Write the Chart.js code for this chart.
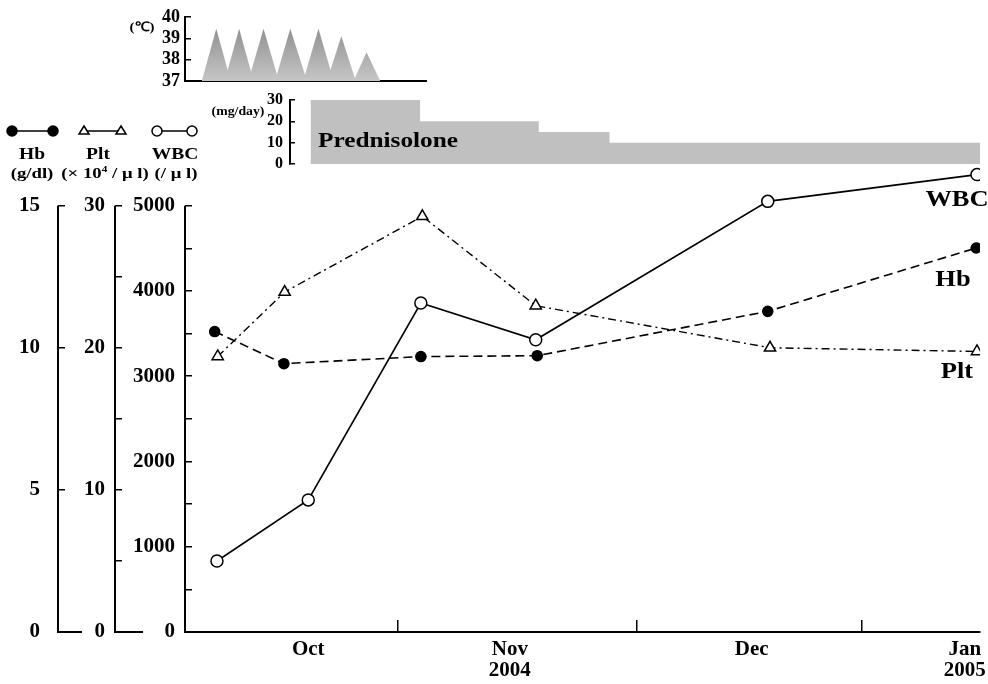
<!DOCTYPE html>
<html>
<head>
<meta charset="utf-8">
<script src="https://cdn.jsdelivr.net/npm/chart.js@4.4.0/dist/chart.umd.min.js"></script>
<style>
body { margin: 0; background: #fff; }
#wrap { position: relative; width: 988px; height: 684px; overflow: hidden; font-family: "Liberation Serif", serif; font-weight: bold; color: #000; }
canvas { position: absolute; }
.t { position: absolute; white-space: nowrap; transform: translate(-50%, -50%); line-height: 1; }
.w { transform: translate(-50%, -50%) scaleX(1.15); }
.ww { transform: translate(-50%, -50%) scaleX(1.25); }
</style>
</head>
<body>
<div id="wrap">
  <canvas id="main" width="988" height="684" style="left:0;top:0"></canvas>
  <canvas id="pred" width="788" height="90" style="left:200px;top:90px"></canvas>
  <canvas id="temp" width="320" height="100" style="left:120px;top:0"></canvas>

  <svg style="position:absolute;left:0;top:118px" width="210" height="26">
    <g stroke="#000" stroke-width="1.5">
      <line x1="12" y1="13" x2="53" y2="13"/>
      <circle cx="12" cy="13" r="5" fill="#000"/>
      <circle cx="53" cy="13" r="5" fill="#000"/>
      <line x1="84" y1="13" x2="121" y2="13"/>
      <polygon points="84,8 89,16 79,16" fill="#fff"/>
      <polygon points="121,8 126,16 116,16" fill="#fff"/>
      <line x1="157" y1="13" x2="192" y2="13"/>
      <circle cx="157" cy="13" r="5" fill="#fff"/>
      <circle cx="192" cy="13" r="5" fill="#fff"/>
    </g>
  </svg>
  <div class="t w" style="left:32px;top:153px;font-size:17px">Hb</div>
  <div class="t w" style="left:98px;top:153px;font-size:17px">Plt</div>
  <div class="t w" style="left:175px;top:153px;font-size:17px">WBC</div>
  <div class="t ww" style="left:32px;top:173px;font-size:15px">(g/dl)</div>
  <div class="t ww" style="left:105px;top:173px;font-size:15px">(× 10<sup style="font-size:9px">4</sup> / μ l)</div>
  <div class="t ww" style="left:176px;top:173px;font-size:15px">(/ μ l)</div>

  <div class="t w" style="left:142px;top:26px;font-size:13px">(℃)</div>
  <div class="t w" style="left:238px;top:111px;font-size:12px">(mg/day)</div>
  <div class="t w" style="left:388px;top:140px;font-size:22px">Prednisolone</div>

  <div class="t w" style="left:957px;top:198px;font-size:23px">WBC</div>
  <div class="t w" style="left:953px;top:278px;font-size:23px">Hb</div>
  <div class="t w" style="left:957px;top:370px;font-size:23px">Plt</div>
</div>

<script>
// time axis in days counted from 1 Oct 2004
const wbcDays = [7.2, 19.2, 34.0, 49.1, 79.6, 107.1];
const wbcValues = [833, 1549, 3858, 3427, 5050, 5364];
const hbDays = [6.9, 16.0, 34.0, 49.3, 79.6, 107.0];
const hbValues = [10.57, 9.44, 9.69, 9.72, 11.28, 13.51];
const pltDays = [7.3, 16.1, 34.2, 49.1, 79.9, 107.1];
const pltValues = [19.39, 23.92, 29.25, 22.96, 20.0, 19.74];

const predDays = [19.5, 33.9, 49.5, 58.8, 107.5];
const predDose = [30, 20, 15, 10, 10];

const feverStart = [5.2, 8.2, 11.3, 14.8, 18.5, 21.6, 25.1];
const feverPeakDay = [7.1, 10.1, 13.3, 16.8, 20.5, 23.5, 26.8];
const feverEnd = [9.0, 12.0, 15.3, 19.0, 22.5, 25.4, 28.6];
const feverPeak = [39.45, 39.45, 39.45, 39.45, 39.45, 39.1, 38.35];

const monthTicks = [31, 62.4, 92];
const monthLabelDays = [19.2, 45.7, 77.5, 105.5];
const monthLabels = [['Oct'], ['Nov', '2004'], ['Dec'], ['Jan', '2005']];

const hbTicks = [0, 5, 10, 15];
const pltTicks = [0, 5, 10, 15, 20, 25, 30];
const pltLabelled = [0, 10, 20, 30];
const wbcTicks = [0, 500, 1000, 1500, 2000, 2500, 3000, 3500, 4000, 4500, 5000];
const wbcLabelled = [0, 1000, 2000, 3000, 4000, 5000];
const tempTicks = [37, 38, 39, 40];
const predTicks = [0, 10, 20, 30];

Chart.defaults.font.family = '"Liberation Serif", serif';
Chart.defaults.font.weight = 'bold';
Chart.defaults.color = '#000';

const pts = (xs, ys) => xs.map((x, i) => ({ x: x, y: ys[i] }));
const setTicks = arr => s => { s.ticks = arr.map(v => ({ value: v })); };
// fixed box size, no extra room for labels hanging over the ends
const fixW = w => s => { s.width = w; s.paddingTop = 0; s.paddingBottom = 0; };
const fixH = h => s => { s.height = h; s.paddingLeft = 0; s.paddingRight = 0; };

function leftAxis(weight, max, ticks, width, pad, labelled) {
	return {
		type: 'linear', position: 'left', weight: weight, min: 0, max: max,
		afterBuildTicks: setTicks(ticks),
		afterFit: fixW(width),
		border: { display: false },
		grid: { drawOnChartArea: false, tickLength: -7, color: '#000', lineWidth: 1.5 },
		ticks: {
			autoSkip: false, padding: pad, font: { size: 21 },
			callback: v => (labelled ? (labelled.includes(v) ? v : '') : v)
		}
	};
}

// axis lines only run up to the top labelled tick, with a stub at zero
const axisLines = {
	id: 'axisLines',
	afterDraw(chart) {
		const ctx = chart.ctx;
		ctx.save();
		ctx.strokeStyle = '#000';
		ctx.lineWidth = 2;
		[['yHb', 15, 24], ['yPlt', 30, 28], ['yWbc', 5000, 0]].forEach(([id, top, stub]) => {
			const s = chart.scales[id];
			const x = Math.round(s.right);
			ctx.beginPath();
			ctx.moveTo(x + stub, s.getPixelForValue(0));
			ctx.lineTo(x, s.getPixelForValue(0));
			ctx.lineTo(x, s.getPixelForValue(top));
			ctx.stroke();
		});
		ctx.restore();
	}
};

new Chart(document.getElementById('main'), {
	type: 'line',
	data: {
		datasets: [{
			label: 'Hb', yAxisID: 'yHb',
			data: pts(hbDays, hbValues),
			borderColor: '#000', borderWidth: 1.6, borderDash: [9, 5],
			pointStyle: 'circle', pointRadius: 5, pointBackgroundColor: '#000', pointBorderColor: '#000'
		}, {
			label: 'Plt', yAxisID: 'yPlt',
			data: pts(pltDays, pltValues),
			borderColor: '#000', borderWidth: 1.4, borderDash: [8, 4, 2, 4],
			pointStyle: 'triangle', pointRadius: 6.5, pointBackgroundColor: '#fff', pointBorderColor: '#000', pointBorderWidth: 1.5
		}, {
			label: 'WBC', yAxisID: 'yWbc',
			data: pts(wbcDays, wbcValues),
			borderColor: '#000', borderWidth: 1.6,
			pointStyle: 'circle', pointRadius: 6, pointBackgroundColor: '#fff', pointBorderColor: '#000', pointBorderWidth: 1.5
		}]
	},
	options: {
		responsive: false, animation: false, events: [],
		layout: { padding: { top: 163, right: 8, bottom: 0, left: 0 } },
		plugins: { legend: { display: false }, tooltip: { enabled: false } },
		scales: {
			x: {
				type: 'linear', position: 'bottom', min: 3, max: 107.5,
				afterBuildTicks: s => {
					s.ticks = monthTicks.concat(monthLabelDays).sort((a, b) => a - b).map(v => ({ value: v }));
				},
				afterFit: fixH(52),
				border: { display: true, color: '#000', width: 2 },
				grid: {
					drawOnChartArea: false, tickLength: -12, lineWidth: 1.5,
					tickColor: c => (monthTicks.includes(c.tick.value) ? '#000' : 'rgba(0,0,0,0)')
				},
				ticks: {
					autoSkip: false, maxRotation: 0, padding: 19,
					font: { size: 21, lineHeight: 1 },
					callback: v => {
						const i = monthLabelDays.indexOf(v);
						return i >= 0 ? monthLabels[i] : '';
					}
				}
			},
			yHb: leftAxis(3, 16.5, hbTicks, 58, 25),
			yPlt: leftAxis(2, 33, pltTicks, 57, 17, pltLabelled),
			yWbc: leftAxis(1, 5500, wbcTicks, 70, 17, wbcLabelled)
		}
	},
	plugins: [axisLines]
});

new Chart(document.getElementById('pred'), {
	type: 'line',
	data: {
		datasets: [{
			data: pts(predDays, predDose),
			stepped: 'before', fill: 'start',
			backgroundColor: '#c0c0c0', borderWidth: 0, pointRadius: 0
		}]
	},
	options: {
		responsive: false, animation: false, events: [],
		layout: { padding: { top: 10, right: 8, bottom: 16, left: 0 } },
		plugins: { legend: { display: false }, tooltip: { enabled: false } },
		scales: {
			x: { type: 'linear', min: 16.8, max: 107.5, display: false },
			y: {
				min: 0, max: 30,
				afterBuildTicks: setTicks(predTicks),
				afterFit: fixW(90),
				border: { display: true, color: '#000', width: 2 },
				grid: { drawOnChartArea: false, tickLength: -5, color: '#000', lineWidth: 1.5 },
				ticks: { autoSkip: false, padding: 12, font: { size: 16 } }
			}
		}
	}
});

const coneFill = c => {
	const area = c.chart.chartArea;
	if (!area) return '#aaa';
	const g = c.chart.ctx.createLinearGradient(0, area.top, 0, area.bottom);
	g.addColorStop(0, '#858585');
	g.addColorStop(1, '#c6c6c6');
	return g;
};

new Chart(document.getElementById('temp'), {
	type: 'line',
	data: {
		datasets: feverPeak.map((p, i) => ({
			data: [
				{ x: feverStart[i], y: 37 },
				{ x: feverPeakDay[i], y: p },
				{ x: feverEnd[i], y: 37 }
			],
			fill: 'start', backgroundColor: coneFill,
			borderWidth: 0, pointRadius: 0
		}))
	},
	options: {
		responsive: false, animation: false, events: [],
		layout: { padding: { top: 17, right: 14, bottom: 0, left: 0 } },
		plugins: { legend: { display: false }, tooltip: { enabled: false } },
		scales: {
			x: {
				type: 'linear', min: 3, max: 34.6,
				afterFit: fixH(19),
				border: { display: true, color: '#000', width: 2 },
				grid: { display: false },
				ticks: { display: false }
			},
			y: {
				min: 37, max: 40,
				afterBuildTicks: setTicks(tempTicks),
				afterFit: fixW(65),
				border: { display: true, color: '#000', width: 2 },
				grid: { drawOnChartArea: false, tickLength: -6, color: '#000', lineWidth: 1.5 },
				ticks: { autoSkip: false, padding: 11, font: { size: 18 } }
			}
		}
	}
});
</script>
</body>
</html>
